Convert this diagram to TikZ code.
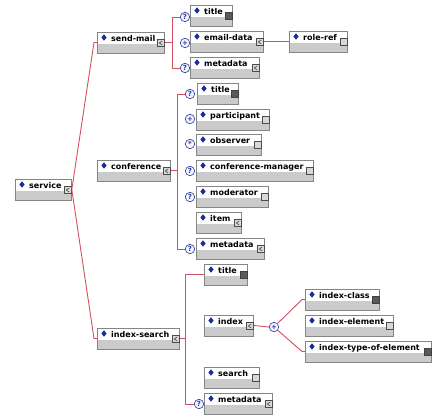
\documentclass[tikz,border=0pt]{standalone}
\usepackage{fontspec}
\setmainfont{DejaVu Sans}
\usetikzlibrary{shapes.geometric}
\definecolor{bordergray}{HTML}{858585}
\definecolor{bandgray}{HTML}{CBCBCB}
\definecolor{connred}{HTML}{D2505F}
\definecolor{diablue}{HTML}{1C2C9C}
\definecolor{cardblue}{HTML}{2C3C9C}
\definecolor{cardfill}{HTML}{F2F4FF}
\definecolor{icdark}{HTML}{5A5A5A}
\definecolor{iclight}{HTML}{D8D8D8}
\tikzset{
  ebox/.style={rectangle, draw=bordergray, fill=white, anchor=north west,
    minimum height=21pt, inner sep=0pt, line width=0.8pt,
    path picture={\fill[bandgray] (path picture bounding box.south west)
      rectangle ([yshift=9pt]path picture bounding box.south east);}},
  etext/.style={font=\fontsize{8}{9.6}\selectfont\bfseries, inner sep=0pt, text=black},
  dia/.style={diamond, fill=diablue, inner sep=0pt, minimum width=5.5pt, minimum height=6.5pt},
  icd/.style={rectangle, draw=black!75, fill=icdark, minimum size=7.5pt, inner sep=0pt, line width=0.6pt},
  icl/.style={rectangle, draw=black!70, fill=iclight, minimum size=7.5pt, inner sep=0pt, line width=0.6pt},
  icc/.style={rectangle, draw=black!70, fill=iclight, minimum size=7.5pt, inner sep=0pt, line width=0.6pt,
    path picture={\draw[black!75, line width=0.6pt]
      ([xshift=1.3pt,yshift=1.9pt]path picture bounding box.center) --
      ([xshift=-1.5pt]path picture bounding box.center) --
      ([xshift=1.3pt,yshift=-1.9pt]path picture bounding box.center);}},
  card/.style={circle, draw=cardblue, fill=cardfill, minimum size=9.5pt, inner sep=0pt,
    line width=0.6pt, text=cardblue, font=\fontsize{7}{7}\selectfont\bfseries},
  conn/.style={draw=connred, line width=0.9pt},
}
\newcommand\elem[6]{%
  \node[ebox, minimum width=#4pt] (#1) at (#2,#3) {};
  \node[etext, anchor=base west] (#1-t) at ([xshift=14pt,yshift=-10pt]#1.north west) {#5};
  \node[dia] (#1-d) at ([xshift=7pt,yshift=-5.5pt]#1.north west) {};
  \node[#6] (#1-i) at ([xshift=-4pt,yshift=-11pt]#1.north east) {};
  \coordinate (#1-o) at ([yshift=-10.5pt]#1.north east);
  \coordinate (#1-in) at ([yshift=-10.5pt]#1.north west);
}
\begin{document}
\begin{tikzpicture}[x=1pt,y=-1pt]
\useasboundingbox[fill=white] (0,0) rectangle (434,419);
% elements
\elem{service}{15}{179}{56}{service}{icc}
\elem{sendmail}{97}{32}{67}{send-mail}{icc}
\elem{conference}{97}{160}{73}{conference}{icc}
\elem{indexsearch}{97}{328}{82}{index-search}{icc}
\elem{smtitle}{190}{5}{42}{title}{icd}
\elem{smemail}{190}{31}{73}{email-data}{icc}
\elem{roleref}{289}{31}{58}{role-ref}{icl}
\elem{smmeta}{190}{57}{69}{metadata}{icc}
\elem{cftitle}{197}{83}{41}{title}{icd}
\elem{cfpart}{196}{109}{73}{participant}{icl}
\elem{cfobs}{196}{134}{65}{observer}{icl}
\elem{cfmgr}{196}{160}{117}{conference-manager}{icl}
\elem{cfmod}{196}{186}{72}{moderator}{icl}
\elem{cfitem}{196}{212}{45}{item}{icc}
\elem{cfmeta}{196}{238}{68}{metadata}{icc}
\elem{istitle}{204}{264}{43}{title}{icd}
\elem{isindex}{204}{315}{49}{index}{icc}
\elem{issearch}{204}{367}{55}{search}{icl}
\elem{ismeta}{204}{393}{68}{metadata}{icc}
\elem{ixclass}{305}{289}{74}{index-class}{icd}
\elem{ixelem}{305}{315}{88}{index-element}{icl}
\elem{ixtype}{305}{341}{126}{index-type-of-element}{icd}
% cardinality circles
\node[card] (csm1) at (185,17) {?};
\node[card] (csm2) at (185,43) {+};
\node[card] (csm3) at (185,68) {?};
\node[card] (ccf1) at (190,94) {?};
\node[card] (ccf2) at (190,119) {+};
\node[card] (ccf3) at (190,144) {*};
\node[card] (ccf4) at (190,171) {?};
\node[card] (ccf5) at (190,197) {?};
\node[card] (ccf7) at (190,249) {?};
\node[card] (cis) at (199,404) {?};
\node[card] (cix) at (274,327) {+};
% connectors
\draw[conn] (service-o) -- ([xshift=-3pt]sendmail-in) -- (sendmail-in);
\draw[conn] (service-o) -- ([xshift=-3pt]indexsearch-in) -- (indexsearch-in);
\coordinate (smb) at ([xshift=8pt]sendmail-o);
\draw[conn] (sendmail-o) -- (smb);
\draw[conn] (csm1.west) -| (smb) |- (csm3.west);
\draw[conn] (smemail-o) -- (roleref-in);
\coordinate (cfb) at ([xshift=7pt]conference-o);
\draw[conn] (conference-o) -- (cfb);
\draw[conn] (ccf1.west) -| (cfb) |- (ccf7.west);
\coordinate (isb) at ([xshift=6pt]indexsearch-o);
\draw[conn] (indexsearch-o) -- (isb);
\draw[conn] (istitle-in) -| (isb) |- (cis.west);
\draw[conn] (isindex-o) -- (cix.west);
\draw[conn] (cix) -- ([xshift=-3pt]ixclass-in) -- (ixclass-in);
\draw[conn] (cix) -- ([xshift=-3pt]ixtype-in) -- (ixtype-in);
\end{tikzpicture}
\end{document}
